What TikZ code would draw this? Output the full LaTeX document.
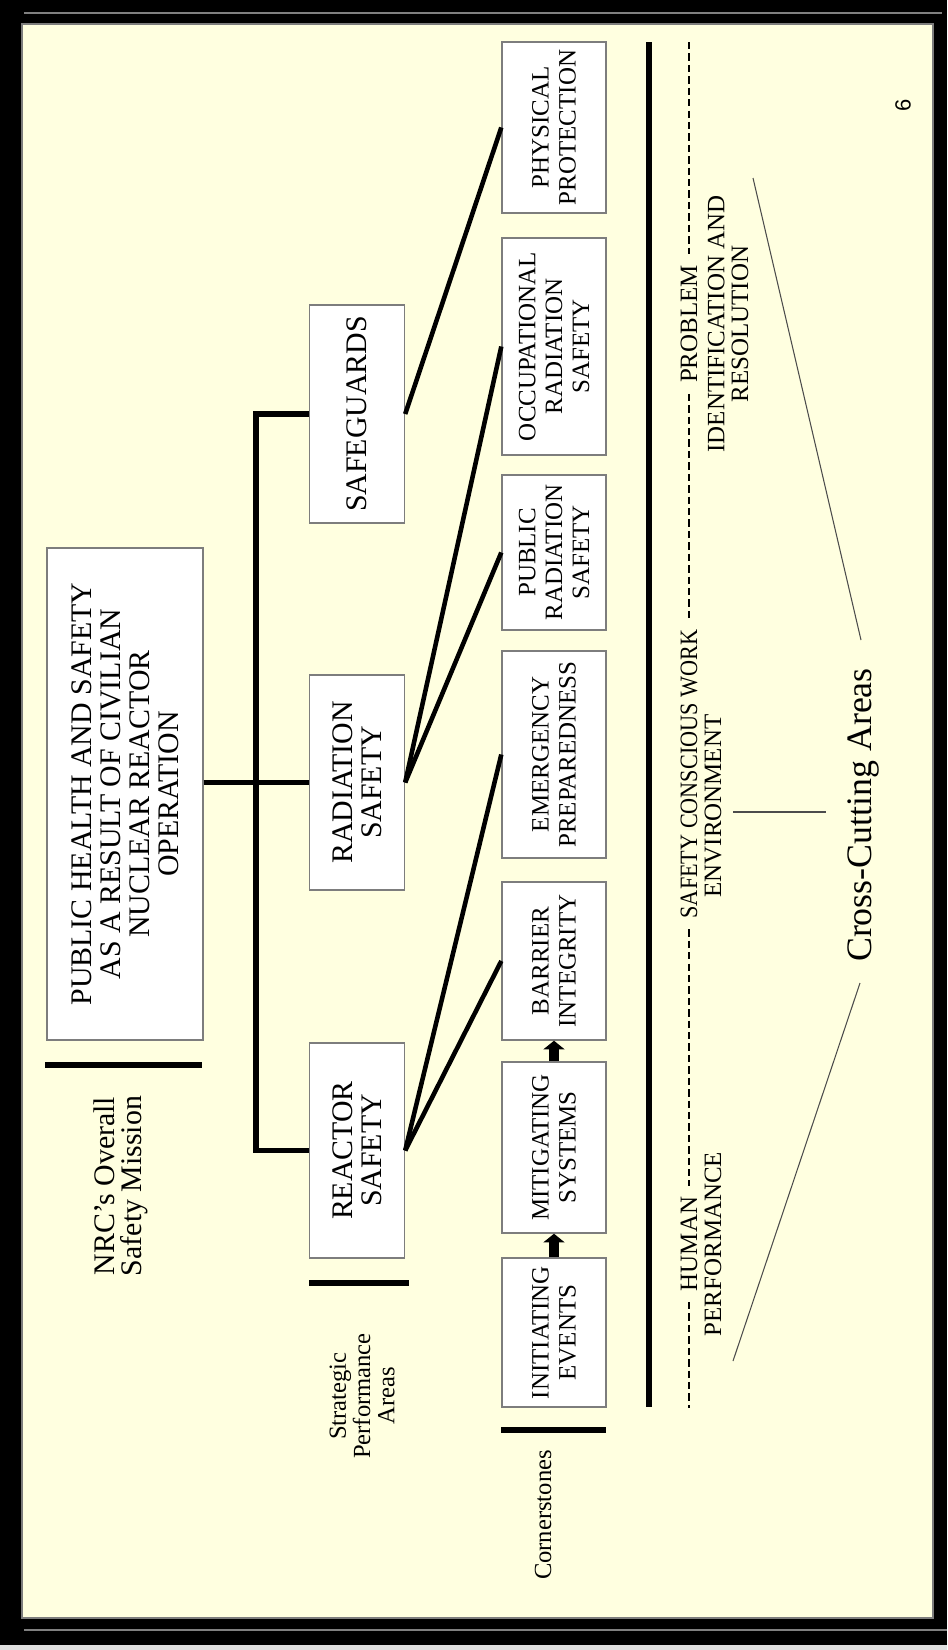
\documentclass[tikz,border=0pt]{standalone}
\usepackage{graphicx}
\usepackage{fontspec}
\setmainfont{Liberation Serif}
\newfontfamily\pagefont{Liberation Sans}
\usetikzlibrary{arrows.meta}
\definecolor{paper}{RGB}{255,255,224}
\definecolor{boxline}{RGB}{125,125,125}

\begin{document}
\begin{tikzpicture}[x=0.02cm, y=-0.02cm,
	basebox/.style={draw=boxline, line width=0.8pt, fill=white, rotate=90, inner sep=0pt, align=center},
	missionbox/.style={basebox, font=\fontsize{17}{16.5}\selectfont},
	spabox/.style={basebox, font=\fontsize{17}{16.5}\selectfont, minimum height=1.9cm},
	cornbox/.style={basebox, font=\fontsize{14.2}{15.3}\selectfont, minimum height=2.08cm},
	headtxt/.style={rotate=90, align=center, inner sep=0pt},
	cuttxt/.style={rotate=90, align=center, inner xsep=6pt, inner ysep=0pt, font=\fontsize{14.2}{13.5}\selectfont},
	tree/.style={line width=3pt},
	link/.style={line width=2.6pt},
	sepline/.style={line width=3pt},
	dashln/.style={line width=1.5pt, dash pattern=on 4.2pt off 2.3pt},
	brace/.style={line width=0.6pt, draw=gray!60!black},
	flow/.style={line width=5.5pt, -{Triangle[width=12pt,length=5pt]}}
]
	\useasboundingbox (0,0) rectangle (947,1650);
	\fill[black] (0,0) rectangle (947,1650);
	\fill[gray!25] (0,1645) rectangle (947,1650);
	\draw[gray, line width=0.8pt] (24,13) -- (942,13);
	\draw[gray, line width=0.8pt] (24,1630) -- (947,1630);
	\filldraw[fill=paper, draw=boxline, line width=1pt] (22,24) rectangle (933,1618);

	\node[missionbox, minimum width=9.84cm, minimum height=3.12cm] (mis) at (125,794) {PUBLIC HEALTH AND SAFETY\\AS A RESULT OF CIVILIAN\\NUCLEAR REACTOR\\OPERATION};
	\node[spabox, minimum width=4.3cm] (rs) at (357,1150.5) {REACTOR\\SAFETY};
	\node[spabox, minimum width=4.3cm] (rad) at (357,782.5) {RADIATION\\SAFETY};
	\node[spabox, minimum width=4.36cm] (sg) at (357,414) {SAFEGUARDS};

	\node[cornbox, minimum width=3.42cm] (pp) at (554,127.5) {PHYSICAL\\PROTECTION};
	\node[cornbox, minimum width=4.34cm] (ors) at (554,346.5) {OCCUPATIONAL\\RADIATION\\SAFETY};
	\node[cornbox, minimum width=3.1cm] (prs) at (554,552.5) {PUBLIC\\RADIATION\\SAFETY};
	\node[cornbox, minimum width=4.14cm] (ep) at (554,754.5) {EMERGENCY\\PREPAREDNESS};
	\node[cornbox, minimum width=3.16cm] (bi) at (554,961) {BARRIER\\INTEGRITY};
	\node[cornbox, minimum width=3.42cm] (ms) at (554,1147.5) {MITIGATING\\SYSTEMS};
	\node[cornbox, minimum width=2.98cm] (ie) at (554,1332.5) {INITIATING\\EVENTS};

	\node[headtxt, font=\fontsize{17}{15.3}\selectfont] (nrc) at (121,1186) {NRC's Overall\\Safety Mission};
	\node[headtxt, font=\fontsize{14}{13.8}\selectfont] (spa) at (362,1396) {Strategic\\Performance\\Areas};
	\node[headtxt, font=\fontsize{14}{14}\selectfont] (cs) at (543,1515) {Cornerstones};
	\node[headtxt, font=\fontsize{20.4}{22}\selectfont] (cca) at (863,815) {Cross-Cutting Areas};
	\node[headtxt, font=\pagefont\fontsize{12.5}{14}\selectfont] (pg) at (903,105) {6};

	\draw[sepline] (45,1065) -- (202,1065);
	\draw[sepline] (309,1283) -- (409,1283);
	\draw[sepline] (501,1430) -- (606,1430);
	\draw[sepline] (649,42) -- (649,1407);

	\coordinate (jct) at (256,784);
	\draw[tree] (sg.north) -- (sg.north -| jct) -- (rs.north -| jct) -- (rs.north);
	\draw[tree] (mis.south |- rad.north) -- (rad.north);

	\draw[link] (rs.south) -- (ep.north);
	\draw[link] (rs.south) -- (bi.north);
	\draw[link] (rad.south) -- (ors.north);
	\draw[link] (rad.south) -- (prs.north);
	\draw[link] (sg.south) -- (pp.north);

	\draw[flow] (ie.east) -- (ms.west);
	\draw[flow] (ms.east) -- (bi.west);

	\coordinate (dtop) at (689,42);
	\coordinate (dbot) at (689,1408);
	\node[cuttxt] (prob) at (689,324) {PROBLEM};
	\node[cuttxt] (ident) at (728,324) {IDENTIFICATION AND\\RESOLUTION};
	\node[cuttxt] (scw) at (689,774) {\scalebox{0.89}[1]{SAFETY CONSCIOUS WORK}};
	\node[cuttxt] (env) at (713,806) {ENVIRONMENT};
	\node[cuttxt] (hum) at (689,1244) {HUMAN};
	\node[cuttxt] (perf) at (713,1244) {PERFORMANCE};
	\draw[dashln] (dtop) -- (dtop |- prob.east);
	\draw[dashln] (dtop |- prob.west) -- (dtop |- scw.east);
	\draw[dashln] (dtop |- scw.west) -- (dtop |- hum.east);
	\draw[dashln] (dtop |- hum.west) -- (dbot);

	\draw[brace] (733,1361) -- (860,983);
	\draw[brace] (861,640) -- (753,178);
	\draw[brace] (733,812) -- (826,812);
\end{tikzpicture}
\end{document}
